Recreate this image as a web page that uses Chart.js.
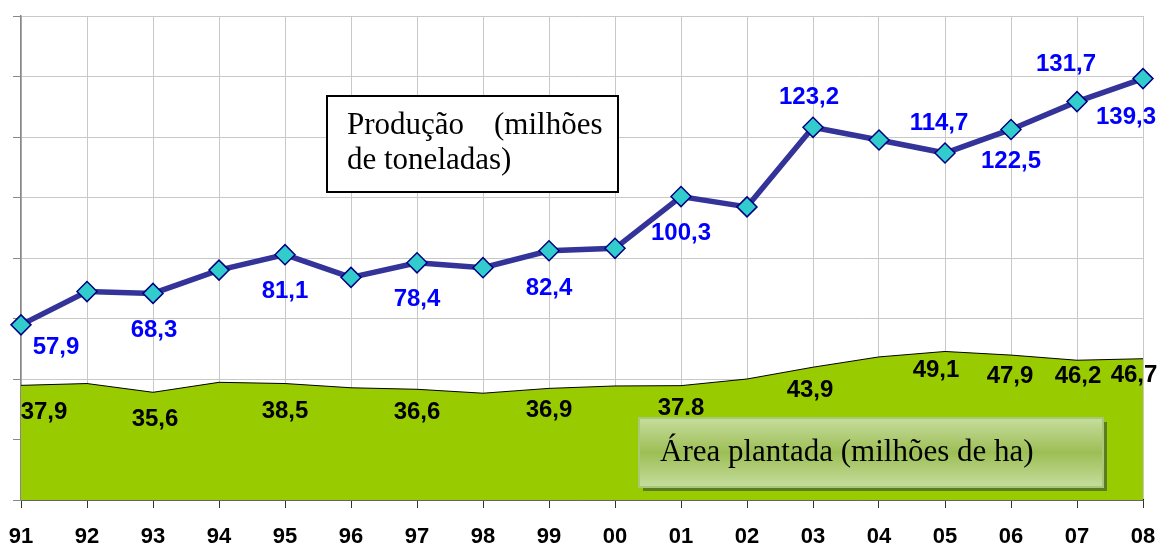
<!DOCTYPE html>
<html>
<head>
<meta charset="utf-8">
<script src="https://cdn.jsdelivr.net/npm/chart.js@4/dist/chart.umd.min.js"></script>
<style>
  html, body { margin: 0; padding: 0; background: #fff; }
  #box { width: 1160px; height: 548px; }
</style>
</head>
<body>
<div id="box"><canvas id="soja"></canvas></div>
<script>
const anos = ['91','92','93','94','95','96','97','98','99','00','01','02','03','04','05','06','07','08'];
const producao = [57.9, 68.9, 68.3, 76.0, 81.1, 73.6, 78.4, 76.8, 82.4, 83.2, 100.3, 96.9, 123.2, 119.0, 114.7, 122.5, 131.7, 139.3];
const area = [37.9, 38.5, 35.6, 38.9, 38.5, 37.1, 36.6, 35.3, 36.9, 37.7, 37.8, 40.0, 43.9, 47.3, 49.1, 47.9, 46.2, 46.7];
const rotulosProducao = ['57,9', null, '68,3', null, '81,1', null, '78,4', null, '82,4', null, '100,3', null, '123,2', null, '114,7', '122,5', '131,7', '139,3'];
const rotulosArea = ['37,9', null, '35,6', null, '38,5', null, '36,6', null, '36,9', null, '37.8', null, '43,9', null, '49,1', '47,9', '46,2', '46,7'];
const yTicks = [0, 20, 40, 60, 80, 100, 120, 140, 160];

// deslocamento dos rotulos em relacao ao ponto (px)
const offProducao = {0: [35, 23], 2: [1, 37], 4: [0, 37], 6: [0, 37], 8: [0, 38], 10: [0, 37],
  12: [-4, -30], 14: [-6, -30], 15: [0, 32], 16: [-11, -37], 17: [-17, 39]};
const offArea = {0: [23, 27], 2: [2, 27], 4: [0, 28], 6: [0, 23], 8: [0, 22], 10: [0, 23],
  12: [-3, 23], 14: [-9, 19], 15: [-1, 21], 16: [1, 16], 17: [-9, 17]};

const serif = '31px "Liberation Serif", "Times New Roman", serif';

const rotulosPlugin = {
  id: 'rotulos',
  afterDatasetsDraw(chart) {
    const ctx = chart.ctx;
    const x = chart.scales.x, y = chart.scales.y;
    ctx.save();
    ctx.textAlign = 'center';
    ctx.textBaseline = 'middle';
    ctx.font = 'bold 24px "Liberation Sans", Arial, sans-serif';
    ctx.fillStyle = '#0000ff';
    rotulosProducao.forEach((t, i) => {
      if (!t) return;
      const o = offProducao[i] || [0, 0];
      ctx.fillText(t, x.getPixelForValue(i) + o[0], y.getPixelForValue(producao[i]) + o[1]);
    });
    ctx.fillStyle = '#000';
    rotulosArea.forEach((t, i) => {
      if (!t) return;
      const o = offArea[i] || [0, 0];
      ctx.fillText(t, x.getPixelForValue(i) + o[0], y.getPixelForValue(area[i]) + o[1]);
    });
    ctx.restore();
  },
  afterDraw(chart) {
    const ctx = chart.ctx;
    ctx.save();
    // caixa producao
    ctx.fillStyle = '#fff';
    ctx.fillRect(327, 96, 291, 96);
    ctx.lineWidth = 2;
    ctx.strokeStyle = '#000';
    ctx.strokeRect(327, 96, 291, 96);
    ctx.fillStyle = '#000';
    ctx.font = serif;
    ctx.textAlign = 'left';
    ctx.textBaseline = 'alphabetic';
    ctx.fillText('Produção', 347, 134);
    ctx.fillText('(milhões', 494, 134);
    ctx.fillText('de toneladas)', 347, 169);

    // caixa area plantada
    ctx.fillStyle = '#5b7d22';
    ctx.fillRect(643, 422, 464, 69);
    const g = ctx.createLinearGradient(0, 418, 0, 487);
    g.addColorStop(0, '#c6dd9e');
    g.addColorStop(0.5, '#9dbe55');
    g.addColorStop(1, '#c6dd9e');
    ctx.fillStyle = g;
    ctx.fillRect(639, 418, 464, 69);
    ctx.lineWidth = 2;
    ctx.strokeStyle = '#a9c877';
    ctx.strokeRect(639, 418, 464, 69);
    ctx.fillStyle = '#000';
    ctx.fillText('Área plantada (milhões de ha)', 660, 461);
    ctx.restore();
  }
};

new Chart(document.getElementById('soja'), {
  type: 'line',
  data: {
    labels: anos,
    datasets: [{
      label: 'Produção',
      data: producao,
      borderColor: '#333399',
      borderWidth: 5.5,
      pointStyle: 'rectRot',
      pointRadius: 10,
      pointBackgroundColor: '#33cccc',
      pointBorderColor: '#000080',
      pointBorderWidth: 1.5,
      tension: 0,
      fill: false,
      clip: false
    }, {
      label: 'Área plantada',
      data: area,
      borderColor: '#000',
      borderWidth: 1,
      backgroundColor: '#99cc00',
      pointRadius: 0,
      tension: 0,
      fill: 'origin'
    }]
  },
  options: {
    responsive: true,
    maintainAspectRatio: false,
    animation: false,
    layout: { padding: { top: 16, right: 17, left: 0, bottom: 0 } },
    plugins: { legend: { display: false }, tooltip: { enabled: false } },
    scales: {
      x: {
        offset: false,
        grid: { color: '#c8c8c8', tickColor: '#333', tickLength: 8, offset: false },
        border: { color: '#000', width: 1.5 },
        ticks: {
          color: '#000',
          font: { family: '"Liberation Sans", Arial, sans-serif', size: 22, weight: 'bold' },
          maxRotation: 0,
          autoSkip: false,
          padding: 16
        },
        afterFit(s) { s.height = 48; s.paddingLeft = 0; s.paddingRight = 0; }
      },
      y: {
        min: 0,
        max: 160,
        afterBuildTicks(s) { s.ticks = yTicks.map(v => ({ value: v })); },
        grid: { color: '#c8c8c8', tickColor: '#888', tickLength: 8 },
        border: { color: '#888', width: 1.5 },
        ticks: { display: false },
        afterFit(s) { s.width = 21; s.paddingTop = 0; s.paddingBottom = 0; }
      }
    }
  },
  plugins: [rotulosPlugin]
});
</script>
</body>
</html>
